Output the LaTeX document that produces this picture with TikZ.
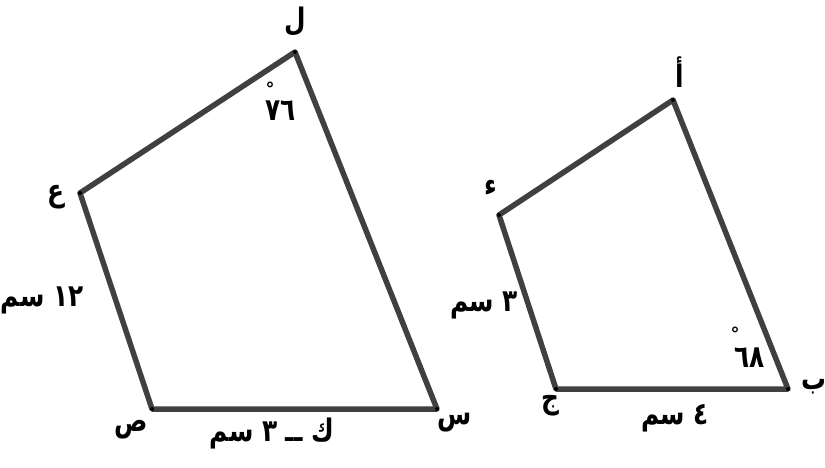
\documentclass[tikz,border=0pt]{standalone}
\usepackage{fontspec}
\TeXXeTstate=1
\newfontfamily\arabicfont[Script=Arabic,FakeStretch=0.8]{DejaVu Sans}
\newfontfamily\degfont{DejaVu Sans}
\begin{document}
\begin{tikzpicture}[x=1pt,y=-1pt,
  side/.style={draw=black!75,line width=5.5pt,line join=round,line cap=round},
  vdot/.style={circle,fill=black,inner sep=0pt,minimum size=4pt},
  lbl/.style={inner sep=0pt,font=\arabicfont\bfseries\fontsize{31}{35}\selectfont},
  deg/.style={inner sep=0pt,font=\degfont\bfseries\fontsize{18}{20}\selectfont}]
\useasboundingbox (0,0) rectangle (825,468);
% left quadrilateral
\coordinate (L) at (295,52);
\coordinate (E) at (80,193);
\coordinate (S) at (152,409);
\coordinate (Sn) at (437,409);
\draw[side] (L) -- (E) -- (S) -- (Sn) -- cycle;
\foreach \p in {L,E,S,Sn} \node[vdot] at (\p) {};
\node[lbl] (tL) at (295,22) {\beginR ل\endR};
\node[lbl] (tE) at (56,197) {\beginR ع\endR};
\node[lbl] (tS) at (131,430) {\beginR ص\endR};
\node[lbl] (tSn) at (455,423) {\beginR س\endR};
\node[lbl] (a76) at (281,111) {\beginR ٧٦\endR};
\node[deg] (d76) at (270,89) {°};
\node[lbl] (s12) at (42,300) {\beginR ١٢ سم\endR};
\node[lbl] (sk) at (272,434) {\beginR ك ــ ٣ سم\endR};
% right quadrilateral
\coordinate (A) at (673,100);
\coordinate (D) at (499,215);
\coordinate (C) at (556,389);
\coordinate (B) at (788,389);
\draw[side] (A) -- (D) -- (C) -- (B) -- cycle;
\foreach \p in {A,D,C,B} \node[vdot] at (\p) {};
\node[lbl] (tA) at (680,72) {\beginR أ\endR};
\node[lbl] (tD) at (491,188) {\beginR ء\endR};
\node[lbl] (tC) at (550,406) {\beginR ج\endR};
\node[lbl] (tB) at (814,387) {\beginR ب\endR};
\node[lbl] (a68) at (750,358) {\beginR ٦٨\endR};
\node[deg] (d68) at (735,334) {°};
\node[lbl] (s3) at (484,305) {\beginR ٣ سم\endR};
\node[lbl] (s4) at (675,418) {\beginR ٤ سم\endR};
\end{tikzpicture}
\end{document}
